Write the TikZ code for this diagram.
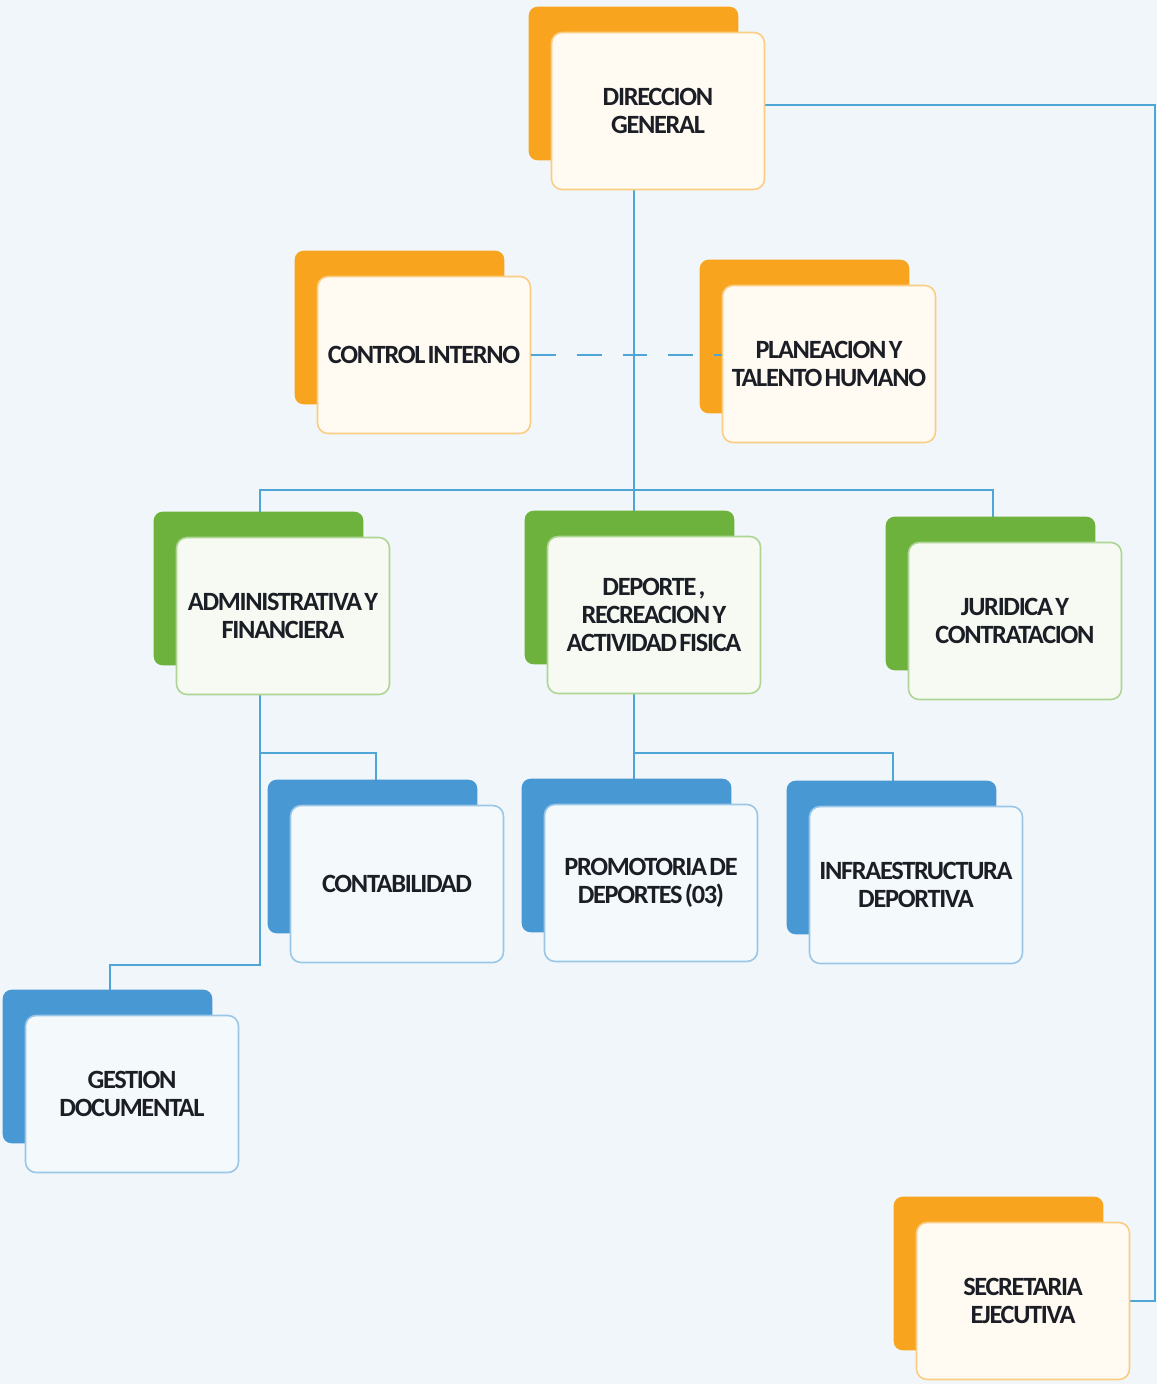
\documentclass[tikz,border=0pt]{standalone}
\usepackage{fontspec}
\setmainfont{Carlito}
\newfontfamily\orgfont{Carlito}[LetterSpace=-5,WordSpace=0.5]
\usepackage{tikz}
\usetikzlibrary{positioning, calc, backgrounds}
\definecolor{orng}{RGB}{248,164,30}
\definecolor{grn}{RGB}{108,178,60}
\definecolor{blu}{RGB}{72,152,212}
\definecolor{wire}{RGB}{80,165,215}
\definecolor{paper}{RGB}{241,246,250}
\definecolor{ink}{RGB}{28,30,38}
\pgfdeclarelayer{canvas}
\pgfdeclarelayer{links}
\pgfdeclarelayer{backs}
\pgfsetlayers{canvas,links,backs,main}

\begin{document}
\begin{tikzpicture}[x=0.02cm, y=-0.02cm,
  unit/.style={draw=#1!55!white, fill=#1!6!white, rounded corners=6pt, line width=0.9pt,
    minimum width=4.26cm, minimum height=3.14cm, align=center, text=ink,
    font=\orgfont\bfseries\fontsize{15}{16}\selectfont},
  link/.style={draw=wire, line width=1pt}]
  \useasboundingbox (0,0) rectangle (1157,1384);
  \begin{pgfonlayer}{canvas}
    \fill[paper] (0,0) rectangle (1157,1384);
  \end{pgfonlayer}

  \node[unit=orng] (dir) at (658,111) {DIRECCION\\GENERAL};
  \node[unit=orng] (ci)  at (424,355) {CONTROL INTERNO};
  \node[unit=orng] (pl)  at (829,364) {PLANEACION Y\\TALENTO HUMANO};
  \node[unit=grn]  (adm) at (283,616) {ADMINISTRATIVA Y\\FINANCIERA};
  \node[unit=grn]  (dep) at (654,615) {DEPORTE ,\\RECREACION Y\\ACTIVIDAD FISICA};
  \node[unit=grn]  (jur) at (1015,621) {JURIDICA Y\\CONTRATACION};
  \node[unit=blu]  (con) at (397,884) {CONTABILIDAD};
  \node[unit=blu]  (pro) at (651,883) {PROMOTORIA DE\\DEPORTES (03)};
  \node[unit=blu]  (inf) at (916,885) {INFRAESTRUCTURA\\DEPORTIVA};
  \node[unit=blu]  (ges) at (132,1094) {GESTION\\DOCUMENTAL};
  \node[unit=orng] (sec) at (1023,1301) {SECRETARIA\\EJECUTIVA};

  \begin{pgfonlayer}{backs}
    \foreach \n/\c in {dir/orng, ci/orng, pl/orng, adm/grn, dep/grn, jur/grn,
                       con/blu, pro/blu, inf/blu, ges/blu, sec/orng}
      \fill[\c, rounded corners=5pt] ($(\n.north west)+(-22,-25)$) rectangle ($(\n.south east)+(-27,-30)$);
  \end{pgfonlayer}

  \coordinate (hub) at (634,490);
  \coordinate (lx) at (260,0);
  \coordinate (rx) at (993,0);
  \coordinate (ex) at (1155,0);
  \coordinate (af) at (260,753);
  \coordinate (ag) at (260,965);
  \coordinate (df) at (634,753);

  \begin{pgfonlayer}{links}
    \draw[link] (dir.south -| hub) -- (dep.north -| hub);
    \draw[link] (adm.north -| lx) |- (hub) -| (jur.north -| rx);
    \draw[link] ($(dir.east)+(0,-6)$) -| (ex |- sec.east) -- (sec.east);
    \draw[link] (adm.south -| af) -- (ag) -| ($(ges.north)+(-22,0)$);
    \draw[link] (af) -| ($(con.north)+(-21,0)$);
    \draw[link] (dep.south -| df) -- (pro.north -| df);
    \draw[link] (df) -| ($(inf.north)+(-23,0)$);
  \end{pgfonlayer}
  \draw[link, dash pattern=on 14pt off 12pt] (ci.east) -- (ci.east -| pl.west);
\end{tikzpicture}
\end{document}
